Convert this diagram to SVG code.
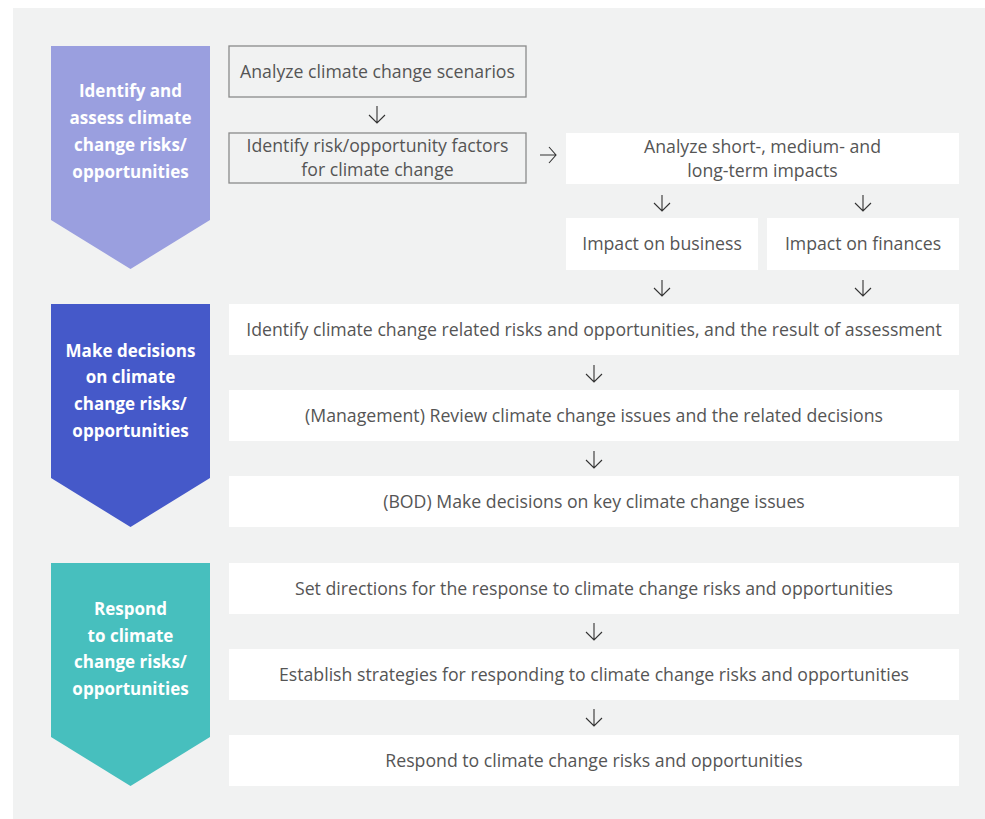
<svg xmlns="http://www.w3.org/2000/svg" width="985" height="819" viewBox="0 0 985 819">
<style>
.bg{fill:#f1f2f2}
.box{fill:#ffffff}
.obox{fill:#f1f2f2;stroke:#8a8a8a;stroke-width:1.3}
.t{font-family:"Open Sans","Lato","Liberation Sans",sans-serif;font-size:17.7px;fill:#555555;text-anchor:middle}
.h{font-family:"Open Sans","Lato","Liberation Sans",sans-serif;font-size:17px;font-weight:bold;fill:#ffffff;text-anchor:middle}
.ar{fill:none;stroke:#333333;stroke-width:1.1}
</style>
<rect class="bg" x="13" y="8" width="972" height="811"/>
<g id="stage1">
<path d="M51 46H210V220L130.5 269L51 220Z" fill="#9a9fdf"/>
<text class="h" x="130.5" y="97">Identify and</text>
<text class="h" x="130.5" y="124">assess climate</text>
<text class="h" x="130.5" y="151">change risks/</text>
<text class="h" x="130.5" y="178">opportunities</text>
</g>
<g id="stage2">
<path d="M51 304H210V478L130.5 527L51 478Z" fill="#4559c9"/>
<text class="h" x="130.5" y="357">Make decisions</text>
<text class="h" x="130.5" y="383">on climate</text>
<text class="h" x="130.5" y="410">change risks/</text>
<text class="h" x="130.5" y="437">opportunities</text>
</g>
<g id="stage3">
<path d="M51 563H210V737L130.5 786L51 737Z" fill="#47bfbe"/>
<text class="h" x="130.5" y="615">Respond</text>
<text class="h" x="130.5" y="642">to climate</text>
<text class="h" x="130.5" y="668">change risks/</text>
<text class="h" x="130.5" y="695">opportunities</text>
</g>
<g id="n1"><rect class="obox" x="229" y="46" width="297" height="51"/><text class="t" x="377.5" y="78">Analyze climate change scenarios</text></g>
<g id="n2"><rect class="obox" x="229" y="133" width="297" height="50"/><text class="t" x="377.5" y="152">Identify risk/opportunity factors</text><text class="t" x="377.5" y="176">for climate change</text></g>
<g id="n3"><rect class="box" x="566" y="133" width="393" height="51"/><text class="t" x="762.5" y="153">Analyze short-, medium- and</text><text class="t" x="762.5" y="177">long-term impacts</text></g>
<g id="n4"><rect class="box" x="566" y="218" width="192" height="52"/><text class="t" x="662" y="250">Impact on business</text></g>
<g id="n5"><rect class="box" x="767" y="218" width="192" height="52"/><text class="t" x="863" y="250">Impact on finances</text></g>
<g id="n6"><rect class="box" x="229" y="304" width="730" height="51"/><text class="t" x="594" y="336">Identify climate change related risks and opportunities, and the result of assessment</text></g>
<g id="n7"><rect class="box" x="229" y="390" width="730" height="51"/><text class="t" x="594" y="422">(Management) Review climate change issues and the related decisions</text></g>
<g id="n8"><rect class="box" x="229" y="476" width="730" height="51"/><text class="t" x="594" y="508">(BOD) Make decisions on key climate change issues</text></g>
<g id="n9"><rect class="box" x="229" y="563" width="730" height="51"/><text class="t" x="594" y="595">Set directions for the response to climate change risks and opportunities</text></g>
<g id="n10"><rect class="box" x="229" y="649" width="730" height="51"/><text class="t" x="594" y="681">Establish strategies for responding to climate change risks and opportunities</text></g>
<g id="n11"><rect class="box" x="229" y="735" width="730" height="51"/><text class="t" x="594" y="767">Respond to climate change risks and opportunities</text></g>
<g id="connectors">
<path class="ar" d="M377 106V123M369 115L377 123L385 115"/>
<path class="ar" d="M540 155H556M549 147L556 155L549 163"/>
<path class="ar" d="M662 195V211M654 203L662 211L670 203"/>
<path class="ar" d="M863 195V211M855 203L863 211L871 203"/>
<path class="ar" d="M662 280V296M654 288L662 296L670 288"/>
<path class="ar" d="M863 280V296M855 288L863 296L871 288"/>
<path class="ar" d="M594 365V382M586 374L594 382L602 374"/>
<path class="ar" d="M594 451V468M586 460L594 468L602 460"/>
<path class="ar" d="M594 623V640M586 632L594 640L602 632"/>
<path class="ar" d="M594 709V726M586 718L594 726L602 718"/>
</g>
</svg>
